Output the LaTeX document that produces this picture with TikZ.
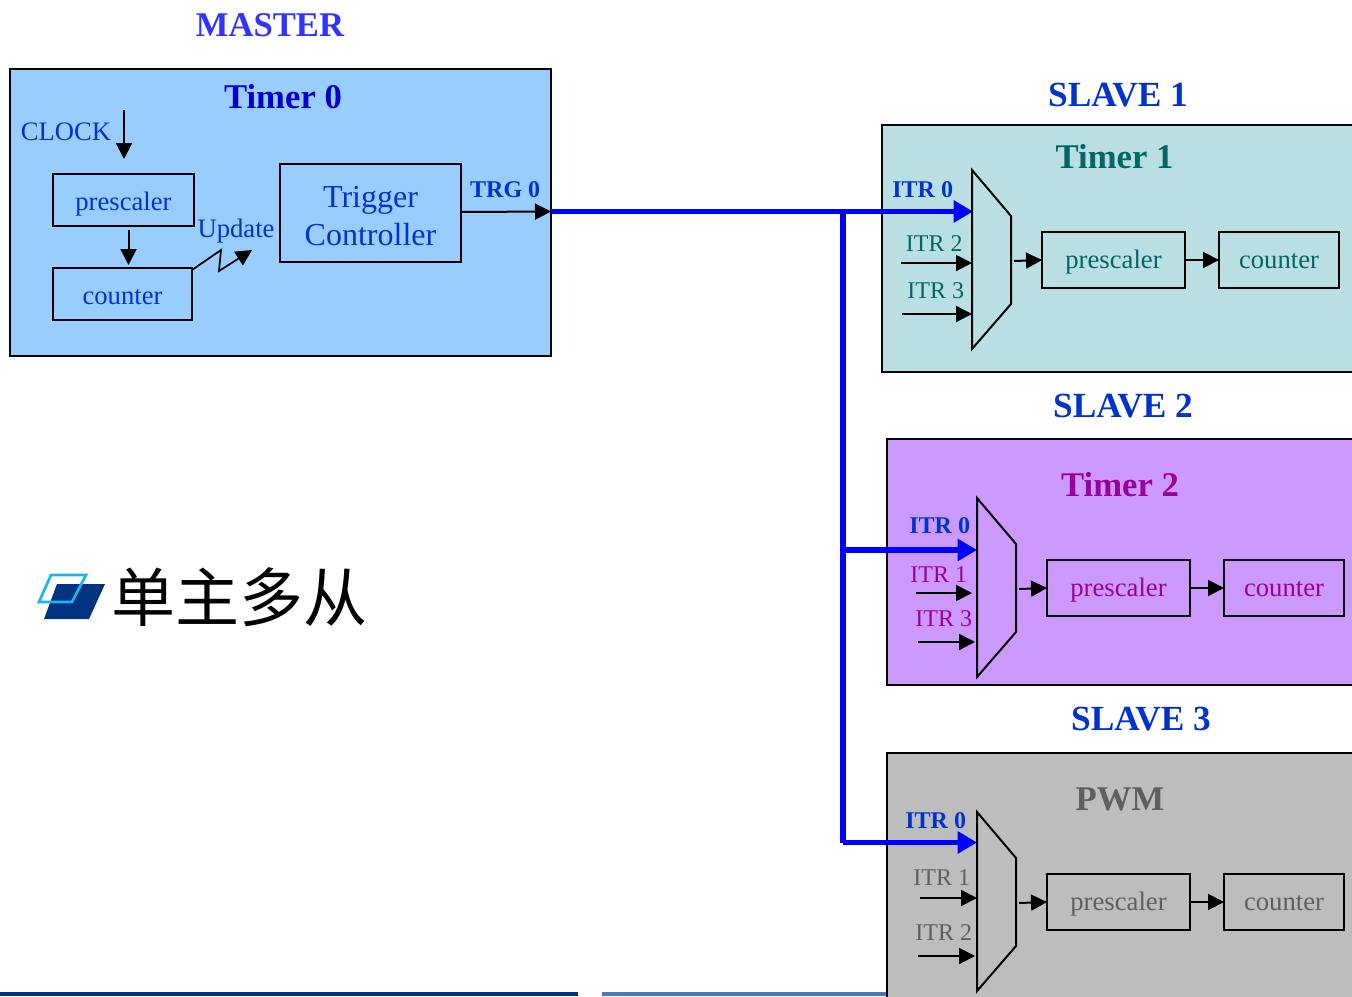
\documentclass[tikz,border=0pt]{standalone}
\usepackage{fontspec}
\setmainfont{Liberation Serif}
\newfontfamily\cjkfont{Noto Sans CJK SC}
\usetikzlibrary{arrows.meta}
\definecolor{mblue}{HTML}{0033CC}
\definecolor{mtitle}{HTML}{3333FF}
\definecolor{tzero}{HTML}{0000CC}
\definecolor{tealt}{HTML}{006666}
\definecolor{magt}{HTML}{990099}
\definecolor{gtxt}{HTML}{5F5F5F}
\definecolor{panelA}{HTML}{99CCFF}
\definecolor{panelB}{HTML}{B9DFE3}
\definecolor{panelC}{HTML}{CC99FF}
\definecolor{panelD}{HTML}{BDBDBD}
\definecolor{logodark}{HTML}{003380}
\definecolor{logocyan}{HTML}{19B5F1}
\definecolor{bardark}{HTML}{003380}
\definecolor{barlight}{HTML}{4A78B8}
\tikzset{
  lbl/.style={inner sep=0pt,yshift=-0.5pt,font=\fontsize{20}{24}\selectfont},
  itr/.style={inner sep=0pt,xshift=0.5pt,yshift=-0.75pt,font=\fontsize{18}{22}\selectfont},
  itrb/.style={inner sep=0pt,xshift=0.5pt,yshift=-0.75pt,text=mblue,font=\fontsize{18}{22}\selectfont\bfseries},
  ttl/.style={inner sep=0pt,yshift=-0.75pt,font=\fontsize{26}{30}\selectfont\bfseries},
  sttl/.style={inner sep=0pt,yshift=-0.75pt,font=\fontsize{26.5}{30}\selectfont\bfseries},
  panel/.style={draw=black,line width=1.5pt,inner sep=0pt,outer sep=0pt},
  pbox/.style={draw=black,line width=1.5pt,inner sep=0pt,outer sep=0pt,font=\fontsize{20}{24}\selectfont},
  mtext/.style={text height=15.6pt,text depth=0pt},
  stext/.style={text height=13.2pt,text depth=0pt},
  arr/.style={draw=black,line width=1.5pt,-{Triangle[length=12pt,width=12pt]}},
  barr/.style={draw=blue,line width=4.4pt,-{Triangle[length=14.5pt,width=16pt]}},
  bline/.style={draw=blue,line width=4.4pt},
  bvert/.style={draw=blue,line width=4pt},
  mux/.style={draw=black,line width=1.5pt,line join=miter}
}
\newcommand{\pxbox}[6]{\node[#6,minimum width={(#4-#2)*0.75pt},minimum height={(#5-#3)*0.75pt}] (#1) at ({(#2+#4)/2},{(#3+#5)/2})}
\begin{document}
\begin{tikzpicture}[x=0.75pt,y=-0.75pt]
\path[use as bounding box] (0,0) rectangle (1352,996);
\clip (0,0) rectangle (1352,996);
\fill[white] (0,0) rectangle (1352,996);
% bottom bars
\fill[bardark] (0,992) rectangle (578,996);
\fill[barlight] (602,992) rectangle (890,996);
% panels
\pxbox{master}{10}{69}{551}{356}{panel,fill=panelA}{};
\pxbox{slaveA}{882}{125}{1370}{372}{panel,fill=panelB}{};
\pxbox{slaveB}{887}{439}{1370}{685}{panel,fill=panelC}{};
\pxbox{slaveC}{887}{753}{1370}{1020}{panel,fill=panelD}{};
% titles
\node[ttl,text=mtitle] (tmaster) at (270,24) {MASTER};
\node[sttl,text=mblue] (tsa) at (1118,94) {SLAVE 1};
\node[sttl,text=mblue] (tsb) at (1123,405) {SLAVE 2};
\node[sttl,text=mblue] (tsc) at (1141,718) {SLAVE 3};
\node[ttl,text=tzero] (tz) at (283,96) {Timer 0};
\node[ttl,text=tealt] (ta) at (1114.5,156) {Timer 1};
\node[ttl,text=magt] (tb) at (1120,484) {Timer 2};
\node[ttl,text=gtxt] (tc) at (1120,798) {PWM};
% master content
\node[lbl,text=mblue] (clk) at (66,131) {CLOCK};
\pxbox{mpre}{53}{174}{194}{226}{pbox,mtext,text=mblue}{prescaler};
\pxbox{mcnt}{53}{268}{192}{320}{pbox,mtext,text=mblue}{counter};
\node[lbl,text=mblue] (upd) at (236,230) {Update};
\pxbox{trg}{280}{164}{461}{262}{pbox,text=mblue,text height=49.4pt,font=\fontsize{24}{28.5}\selectfont,align=center}{Trigger\\Controller};
\node[itrb] (trgl) at (504.5,189) {TRG 0};
\coordinate (clktop) at (124,110);
\coordinate (clkend) at (124,159);
\draw[arr] (clktop) -- (clkend);
\coordinate (pcs) at (128.5,230);
\coordinate (pce) at (128.5,265);
\draw[arr] (pcs) -- (pce);
\coordinate (zs) at (192,270);
\coordinate (za) at (221,250);
\coordinate (zb) at (219,271);
\coordinate (ze) at (252,250);
\draw[arr,line width=1.3pt] (zs) -- (za) -- (zb) -- (ze);
% trigger output and trunk
\coordinate (trgout) at (461,212);
\coordinate (trunkstart) at (551,211.5);
\coordinate (junc) at (843,211.5);
\coordinate (jb) at (843,550);
\coordinate (jc) at (843,842.5);
\coordinate (ina) at (973,211.5);
\coordinate (inb) at (977,550);
\coordinate (inc) at (977,842.5);
\draw[bline] (trunkstart) -- (junc);
\draw[barr] (junc) -- (ina);
\draw[bvert] (junc) -- (jc);
\draw[barr] (jb) -- (inb);
\draw[barr] (jc) -- (inc);
\draw[arr] (trgout) -- (trunkstart);
% slave 1
\draw[mux] (972,170) -- (1011,216) -- (1011,304) -- (972,349) -- cycle;
\node[itrb] (a0) at (922,189) {ITR 0};
\node[itr,text=tealt] (a2) at (933.5,243) {ITR 2};
\node[itr,text=tealt] (a3) at (935,290) {ITR 3};
\coordinate (a2s) at (901,263); \coordinate (a2e) at (972,263);
\coordinate (a3s) at (902,314); \coordinate (a3e) at (972,314);
\draw[arr] (a2s) -- (a2e);
\draw[arr] (a3s) -- (a3e);
\pxbox{apre}{1042}{232}{1185}{288}{pbox,stext,text=tealt}{prescaler};
\pxbox{acnt}{1219}{232}{1339}{288}{pbox,stext,text=tealt}{counter};
\coordinate (aout) at (1014,261);
\draw[arr] (aout) -- (apre.west);
\draw[arr] (apre.east) -- (acnt.west);
% slave 2
\draw[mux] (977,498) -- (1016,544) -- (1016,632) -- (977,677) -- cycle;
\node[itrb] (b0) at (939,525) {ITR 0};
\node[itr,text=magt] (b1) at (938,574) {ITR 1};
\node[itr,text=magt] (b3) at (943,618) {ITR 3};
\coordinate (b1s) at (916,593); \coordinate (b1e) at (972,593);
\coordinate (b3s) at (918,642); \coordinate (b3e) at (975,642);
\draw[arr] (b1s) -- (b1e);
\draw[arr] (b3s) -- (b3e);
\pxbox{bpre}{1047}{560}{1190}{616}{pbox,stext,text=magt}{prescaler};
\pxbox{bcnt}{1224}{560}{1344}{616}{pbox,stext,text=magt}{counter};
\coordinate (bout) at (1019,589);
\draw[arr] (bout) -- (bpre.west);
\draw[arr] (bpre.east) -- (bcnt.west);
% slave 3
\draw[mux] (977,812) -- (1016,858) -- (1016,946) -- (977,991) -- cycle;
\node[itrb] (c0) at (935,820) {ITR 0};
\node[itr,text=gtxt] (c1) at (941,877) {ITR 1};
\node[itr,text=gtxt] (c2) at (943,932) {ITR 2};
\coordinate (c1s) at (920,898); \coordinate (c1e) at (977,898);
\coordinate (c2s) at (918,956); \coordinate (c2e) at (975,956);
\draw[arr] (c1s) -- (c1e);
\draw[arr] (c2s) -- (c2e);
\pxbox{cpre}{1047}{874}{1190}{930}{pbox,stext,text=gtxt}{prescaler};
\pxbox{ccnt}{1224}{874}{1344}{930}{pbox,stext,text=gtxt}{counter};
\coordinate (cout) at (1019,903);
\draw[arr] (cout) -- (cpre.west);
\draw[arr] (cpre.east) -- (ccnt.west);
% logo and heading
\fill[logodark] (57,584) -- (105,584) -- (89,619) -- (44,619) -- cycle;
\draw[logocyan,line width=2pt] (51,575) -- (86,575) -- (72,602) -- (39,602) -- cycle;
\node[inner sep=0pt,font=\fontsize{48}{50}\cjkfont] (head) at (239.5,597) {单主多从};
\end{tikzpicture}
\end{document}
